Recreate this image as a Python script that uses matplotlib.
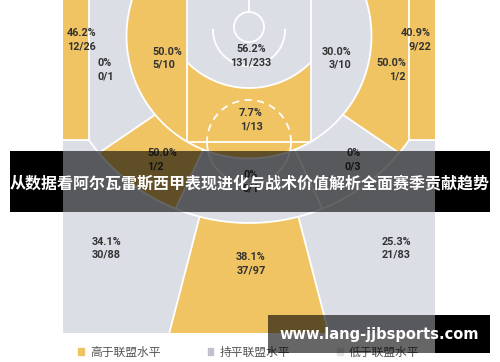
import numpy as np
import matplotlib.pyplot as plt
from matplotlib.patches import Polygon, Rectangle, Patch

# shot zones: made / attempts and level vs league
zones = ['左底角三分', '左底线中投', '左侧近中投', '限制区', '油漆区', '右侧近中投', '右底线中投', '右底角三分',
         '左翼中投', '正面中投', '右翼中投', '左翼三分', '正面三分', '右翼三分']
made = [12, 0, 5, 131, 1, 3, 1, 9, 1, 0, 0, 30, 37, 21]
attempts = [26, 1, 10, 233, 13, 10, 2, 22, 2, 1, 3, 88, 97, 83]
levels = ['high', 'low', 'high', 'even', 'high', 'even', 'high', 'high',
          'high', 'low', 'low', 'even', 'high', 'even']
legend_labels = ['高于联盟水平', '持平联盟水平', '低于联盟水平']

zone_colors = {'high': '#F0C463', 'even': '#DCDEE6', 'low': '#DCDEE6'}
legend_colors = ['#F0C463', '#BFC2CB', '#E2E3E8']

# label anchor (court units, basket line at x=0) and alignment
label_x = [-182, -152, -97, 2, 2, 102, 157, 182, -102, 2, 112, -157, 2, 162]
label_y = [33, 63, 52, 49, 113, 52, 63, 33, 153, 175, 153, 242, 257, 242]
label_ha = ['left', 'left', 'left', 'center', 'center', 'right', 'right', 'right',
            'left', 'center', 'right', 'left', 'center', 'right']

# court geometry (court units = pixels of the drawing)
HALF_W, COURT_H = 186, 333
LANE, FT_Y, FT_R = 62, 142, 42
RIM_Y, RIM_R = 27, 15
RA_Y, RA_R = 30, 36
PAINT_Y, PAINT_R = 1, 87
MID_Y, MID_R = 36, 122.5
THREE_Y, THREE_R, CORNER_X = 27, 196, 160
SPLIT_BASE, SPLIT_TOP, SPLIT_TOP3 = 50, 22, 14.6


def arc(cy, r, a0, a1, n=80):
    a = np.radians(np.linspace(a0, a1, n))
    return np.column_stack([r * np.sin(a), cy + r * np.cos(a)])


a_corner = np.degrees(np.arcsin(CORNER_X / THREE_R))
corner_y = THREE_Y + THREE_R * np.cos(np.radians(a_corner))
a_mid_top = np.degrees(np.arccos(-MID_Y / MID_R))
a_mid_lane = np.degrees(np.arcsin(LANE / MID_R))
a_paint = np.degrees(np.arcsin(LANE / PAINT_R))
paint_y = PAINT_Y + PAINT_R * np.cos(np.radians(a_paint))
bottom_x = (COURT_H - THREE_Y) * np.tan(np.radians(SPLIT_TOP3))


def side_polys(s):
    corner = [(s * HALF_W, 0), (s * CORNER_X, 0), (s * CORNER_X, corner_y), (s * HALF_W, corner_y)]
    base = np.vstack([[(s * CORNER_X, 0), (s * CORNER_X, corner_y)],
                      arc(THREE_Y, THREE_R, s * a_corner, s * SPLIT_BASE),
                      arc(MID_Y, MID_R, s * SPLIT_BASE, s * a_mid_top)])
    short = np.vstack([arc(MID_Y, MID_R, s * a_mid_top, s * a_mid_lane), [(s * LANE, 0)]])
    wing = np.vstack([arc(THREE_Y, THREE_R, s * SPLIT_BASE, s * SPLIT_TOP),
                      arc(MID_Y, MID_R, s * SPLIT_TOP, s * SPLIT_BASE)])
    wing3 = [(0, THREE_Y), (s * bottom_x, COURT_H), (s * HALF_W, COURT_H),
             (s * HALF_W, corner_y), (s * CORNER_X, corner_y)]
    return corner, base, short, wing, wing3


lc, lb, ls, lw_, l3 = side_polys(-1)
rc, rb, rs, rw, r3 = side_polys(1)
ra = np.vstack([[(-LANE, 0)], arc(PAINT_Y, PAINT_R, -a_paint, a_paint), [(LANE, 0)]])
paint = np.vstack([arc(PAINT_Y, PAINT_R, -a_paint, a_paint),
                   arc(MID_Y, MID_R, a_mid_lane, -a_mid_lane)])
top_mid = np.vstack([arc(THREE_Y, THREE_R, -SPLIT_TOP, SPLIT_TOP),
                     arc(MID_Y, MID_R, SPLIT_TOP, -SPLIT_TOP)])
top3 = [(0, THREE_Y), (-bottom_x, COURT_H), (bottom_x, COURT_H)]

polys = [lc, lb, ls, ra, paint, rs, rb, rc, lw_, top_mid, rw, l3, top3, r3]
layer = [1, 2, 3, 3, 3, 3, 2, 1, 2, 2, 2, 1, 1, 1]

fig = plt.figure(figsize=(5.0, 3.62), dpi=100)
ax = fig.add_axes([63 / 500, 29 / 362, 372 / 500, 333 / 362])
ax.set_xlim(-HALF_W, HALF_W)
ax.set_ylim(COURT_H, 0)
ax.axis('off')

for p, lev, z in zip(polys, levels, layer):
    ax.add_patch(Polygon(p, closed=True, facecolor=zone_colors[lev], edgecolor='none', zorder=z))

# court lines
line_kw = dict(color='white', lw=1.3, zorder=4, solid_capstyle='butt')
three = np.vstack([[(-CORNER_X, 0), (-CORNER_X, corner_y)],
                   arc(THREE_Y, THREE_R, -a_corner, a_corner),
                   [(CORNER_X, corner_y), (CORNER_X, 0)]])
ax.plot(three[:, 0], three[:, 1], **line_kw)
mid = arc(MID_Y, MID_R, -a_mid_top, a_mid_top)
ax.plot(mid[:, 0], mid[:, 1], **line_kw)
pa = arc(PAINT_Y, PAINT_R, -a_paint, a_paint)
ax.plot(pa[:, 0], pa[:, 1], **line_kw)
for s in (-1, 1):
    ax.plot([s * HALF_W, s * CORNER_X], [corner_y, corner_y], **line_kw)
    ax.plot([s * LANE, s * LANE], [0, FT_Y], **line_kw)
    for a in (SPLIT_BASE, SPLIT_TOP):
        p3 = arc(THREE_Y, THREE_R, s * a, s * a, 1)[0]
        pm = arc(MID_Y, MID_R, s * a, s * a, 1)[0]
        ax.plot([p3[0], pm[0]], [p3[1], pm[1]], **line_kw)
    p3 = arc(THREE_Y, THREE_R, s * SPLIT_TOP3, s * SPLIT_TOP3, 1)[0]
    ax.plot([p3[0], s * bottom_x], [p3[1], COURT_H], **line_kw)
ax.plot([-LANE, LANE], [FT_Y, FT_Y], **line_kw)
ft_up = arc(FT_Y, FT_R, 90, 270)
ax.plot(ft_up[:, 0], ft_up[:, 1], color='white', lw=1.3, zorder=4, linestyle=(0, (4, 3)))
ft_dn = arc(FT_Y, FT_R, -90, 90)
ax.plot(ft_dn[:, 0], ft_dn[:, 1], **line_kw)
ra_arc = arc(RA_Y, RA_R, -92, 92)
ax.plot(ra_arc[:, 0], ra_arc[:, 1], **line_kw)
rim = arc(RIM_Y, RIM_R, 0, 360)
ax.plot(rim[:, 0], rim[:, 1], **line_kw)
ax.plot([0, 0], [0, RIM_Y - RIM_R], **line_kw)

# zone labels
for x, y, ha, m, a in zip(label_x, label_y, label_ha, made, attempts):
    pct = '0%' if m == 0 else f'{100 * m / a:.1f}%'
    kw = dict(ha=ha, va='center', fontsize=7.8, fontweight='bold',
              family='Roboto', color='#333333', zorder=6)
    ax.text(x, y, pct, **kw)
    ax.text(x, y + 13, f'{m}/{a}', **kw)

# legend
handles = [Patch(color=c) for c in legend_colors]
fig.legend(handles, legend_labels, loc='center left', bbox_to_anchor=(78 / 500, 1 - 352 / 362),
           bbox_transform=fig.transFigure, ncol=3, frameon=False, handlelength=0.5, handleheight=0.5,
           handletextpad=0.5, columnspacing=4.0, borderpad=0, borderaxespad=0,
           prop={'family': 'Noto Sans CJK SC', 'size': 8.5}, labelcolor='#555555')

# banner and watermark overlay
ov = fig.add_axes([0, 0, 1, 1], zorder=10)
ov.set_xlim(0, 500)
ov.set_ylim(362, 0)
ov.axis('off')
ov.patch.set_alpha(0)
ov.add_patch(Rectangle((10, 151), 53, 61, facecolor='black', edgecolor='none'))
ov.add_patch(Rectangle((435, 151), 55, 61, facecolor='black', edgecolor='none'))
ov.add_patch(Rectangle((63, 151), 372, 61, facecolor='black', alpha=0.6, edgecolor='none'))
ov.text(250, 183, '从数据看阿尔瓦雷斯西甲表现进化与战术价值解析全面赛季贡献趋势', ha='center', va='center',
        color='white', fontsize=11.5, fontweight='bold', family='Noto Sans CJK SC')
ov.add_patch(Rectangle((435, 315), 55, 38, facecolor='black', edgecolor='none'))
ov.add_patch(Rectangle((268, 315), 167, 38, facecolor='black', alpha=0.6, edgecolor='none'))
ov.text(379, 335, 'www.lang-jjbsports.com', ha='center', va='center', color='white',
        fontsize=10.5, fontweight='bold', family='DejaVu Sans')

fig.savefig('out.png', dpi=100)
